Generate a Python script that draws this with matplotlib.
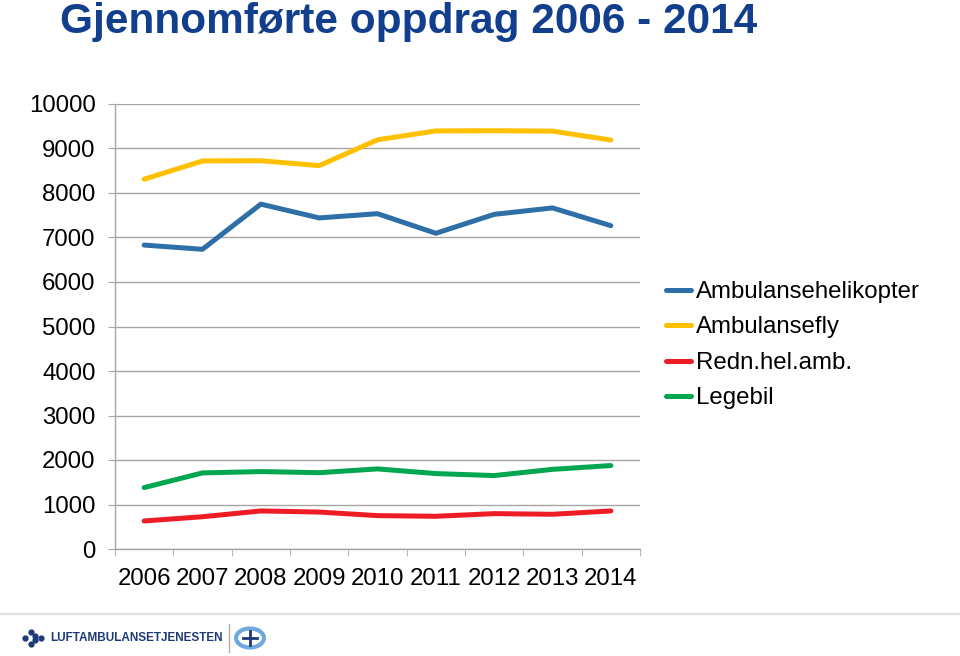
import numpy as np
import matplotlib
matplotlib.use("Agg")
from matplotlib import pyplot as plt
from matplotlib.patches import Circle

plt.rcParams['font.family'] = ['Liberation Sans', 'DejaVu Sans']

# data
years = ['2006', '2007', '2008', '2009', '2010', '2011', '2012', '2013', '2014']
helikopter = [6830, 6735, 7750, 7440, 7535, 7095, 7520, 7665, 7265]
fly = [8310, 8720, 8725, 8615, 9195, 9395, 9400, 9390, 9190]
redn = [630, 725, 855, 830, 750, 735, 795, 780, 855]
legebil = [1380, 1710, 1740, 1715, 1800, 1695, 1650, 1790, 1875]

series_names = ['Ambulansehelikopter', 'Ambulansefly', 'Redn.hel.amb.', 'Legebil']
colors = ['#2E6FA7', '#FFC000', '#EE1C25', '#00A650']

W, H = 960, 656
fig = plt.figure(figsize=(W / 100, H / 100), dpi=100)

# title
fig.text(60 / W, 1 - 33 / H, 'Gjennomførte oppdrag 2006 - 2014', fontsize=30.5,
         fontweight='bold', color='#123E8E', ha='left', va='baseline')

ax = fig.add_axes([115 / W, 1 - 549 / H, (640 - 115) / W, (549 - 104) / H])
x = np.arange(len(years))
for vals, name, c in zip([helikopter, fly, redn, legebil], series_names, colors):
    ax.plot(x, vals, color=c, lw=3.6, label=name, solid_capstyle='round')

ax.set_xlim(-0.5, len(years) - 0.5)
ax.set_ylim(0, 10000)
ax.set_yticks(np.arange(0, 10001, 1000))
ax.set_xticks(x)
ax.set_xticklabels(years)
ax.set_xticks(np.arange(-0.5, len(years), 1), minor=True)
ax.grid(axis='y', color='#A6A6A6', lw=1)
ax.set_axisbelow(True)
for s in ['top', 'right']:
    ax.spines[s].set_visible(False)
for s in ['left', 'bottom']:
    ax.spines[s].set_color('#A6A6A6')
    ax.spines[s].set_linewidth(1)
ax.tick_params(axis='y', length=5, color='#A6A6A6', labelsize=17.3, pad=9)
ax.tick_params(axis='x', which='major', length=0, labelsize=17.3, pad=14)
ax.tick_params(axis='x', which='minor', length=5, color='#A6A6A6')

ax.legend(loc='upper left', bbox_to_anchor=(666 / W, 1 - 281 / H),
          bbox_transform=fig.transFigure, frameon=False, fontsize=17.3,
          handlelength=1.05, handletextpad=0.2, labelspacing=0.56, borderpad=0,
          borderaxespad=0)

# footer
fig.add_artist(plt.Line2D([0, 1], [1 - 614 / H, 1 - 614 / H],
                          transform=fig.transFigure, color='#E0E0E0', lw=1.5))
dots_x = [25, 31, 31, 35, 35, 41]
dots_y = [638, 632, 644, 636, 640, 638]
fig.add_artist(plt.Line2D([d / W for d in dots_x], [1 - d / H for d in dots_y],
                          transform=fig.transFigure, ls='none', marker='o',
                          ms=3.5, color='#1F3A78'))
fig.text(50 / W, 1 - 638 / H, 'LUFTAMBULANSETJENESTEN', fontsize=8.5,
         fontweight='bold', color='#1F3A78', ha='left', va='center')
fig.add_artist(plt.Line2D([229 / W, 229 / W], [1 - 624 / H, 1 - 652 / H],
                          transform=fig.transFigure, color='#B0B0B0', lw=1))
fig.add_artist(Circle((250 / W, 1 - 638 / H), 0.0145, transform=fig.transFigure,
                      facecolor='white', edgecolor='#6FA8DC', lw=3))
fig.add_artist(plt.Line2D([243 / W, 257 / W], [1 - 638 / H, 1 - 638 / H],
                          transform=fig.transFigure, color='#1F3A78', lw=2))
fig.add_artist(plt.Line2D([250 / W, 250 / W], [1 - 631 / H, 1 - 645 / H],
                          transform=fig.transFigure, color='#1F3A78', lw=2))

fig.savefig('out.png', dpi=100)
